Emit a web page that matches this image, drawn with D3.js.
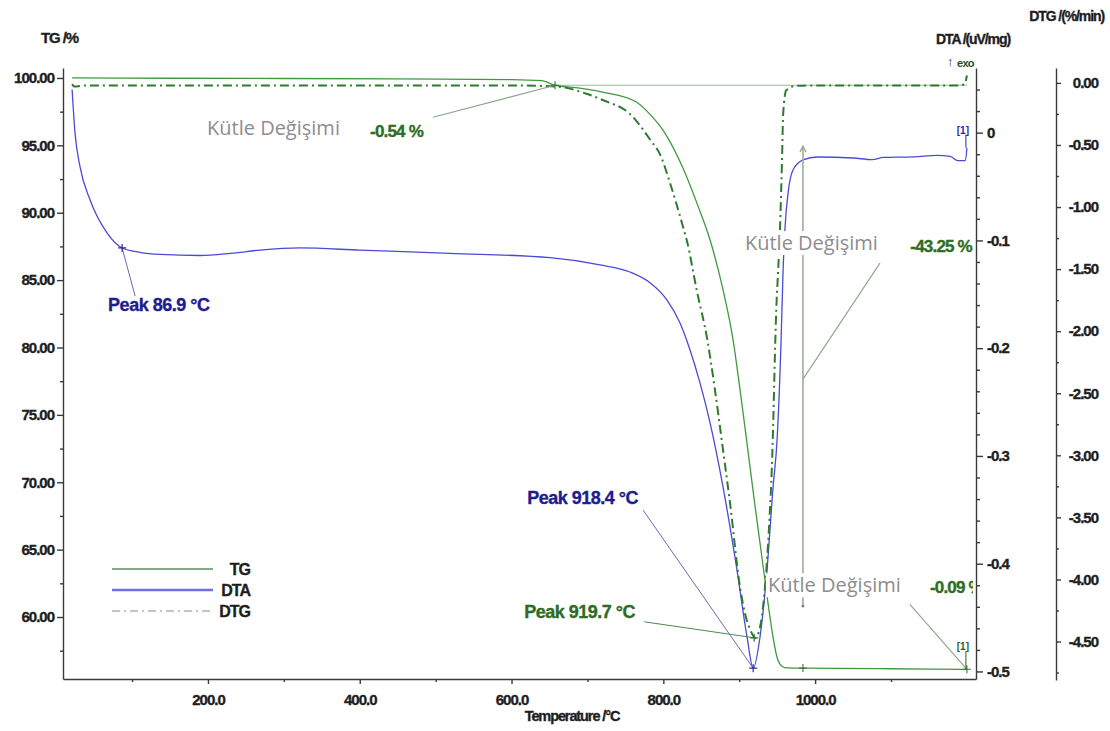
<!DOCTYPE html>
<html>
<head>
<meta charset="utf-8">
<script src="https://cdn.jsdelivr.net/npm/d3@7"></script>
<style>
  html, body { margin: 0; padding: 0; background: #fff; }
  svg { display: block; }
  .bold { font-family: "Liberation Sans", Arial, sans-serif; font-weight: bold; }
  .note { font-family: "Open Sans", sans-serif; fill: #8d8d8d; font-size: 20px; }
  .axis path, .axis line { stroke: #3a3a3a; stroke-width: 1.4; }
</style>
</head>
<body>
<svg id="chart" width="1110" height="731"></svg>
<script>
// ---- Thermal analysis readings (temperature in °C) ----
const tgTemp = [21, 150, 300, 450, 600, 640, 657.3, 690, 720, 765, 782.5, 800, 826, 845, 861.6, 878.7,
  891.9, 901.1, 910, 920, 930, 938, 944, 949, 953.7, 960, 984, 1100, 1200];
const tgMass = [100.0, 99.98, 99.96, 99.93, 99.88, 99.8, 99.46, 99.25, 98.95, 98.2, 97.3, 96.1, 93.3, 90.6, 87.98, 84.27,
  80.56, 76.85, 73.0, 68.6, 64.4, 61.0, 58.7, 57.2, 56.5, 56.25, 56.21, 56.16, 56.12];

const dtaTemp = [21, 24.8, 31.4, 44.6, 67, 86.9, 110, 136.8, 189.5, 230, 268.6, 321.3, 400.4, 519, 650.7, 716.6,
  756.1, 782.5, 804.9, 822, 835.2, 848.4, 861.6, 878.7, 897.1, 910.3, 918.4, 927.4, 936.6, 944.6, 949.9,
  955.2, 957.8, 960.4, 964.4, 971, 984.1, 1002.6, 1050, 1075, 1090, 1130, 1161, 1178, 1188, 1198, 1200];
const dtaSignal = [0.04, 0.0, -0.0316, -0.0623, -0.093, -0.107, -0.111, -0.113, -0.114, -0.112, -0.109, -0.107, -0.109, -0.112, -0.116, -0.1227,
  -0.1293, -0.1393, -0.1554, -0.1766, -0.2017, -0.2324, -0.2694, -0.329, -0.406, -0.468, -0.497, -0.468, -0.406, -0.329, -0.285,
  -0.192, -0.128, -0.0876, -0.056, -0.0345, -0.0253, -0.0226, -0.0235, -0.025, -0.023, -0.0225, -0.021, -0.022, -0.026, -0.026, -0.014];

const dtgTemp = [21, 24, 40, 200, 400, 600, 660, 700, 721, 756, 783, 796, 809, 826, 831, 844, 858, 868, 877, 888,
  901, 910, 914.3, 920.9, 926, 931.4, 936, 940, 943, 945, 947, 949, 951.4, 953.8, 956.4, 958, 962, 975,
  1000, 1100, 1190, 1197, 1200];
const dtgRate = [-0.01, -0.03, -0.02, -0.02, -0.02, -0.02, -0.03, -0.09, -0.14, -0.25, -0.46, -0.58, -0.81, -1.16, -1.27, -1.67, -2.07, -2.47, -2.88, -3.39,
  -4.06, -4.33, -4.40, -4.47, -4.42, -4.22, -3.9, -3.5, -3.1, -2.7, -2.2, -1.8, -1.5, -1.16, -0.62, -0.24, -0.06, -0.024,
  -0.02, -0.02, -0.02, -0.01, 0.06];

// ---- Axis ticks ----
const xTicks = [200, 400, 600, 800, 1000];
const xMinor = [100, 300, 500, 700, 900, 1100];
const tgTicks = [100, 95, 90, 85, 80, 75, 70, 65, 60];
const tgMinor = [97.5, 92.5, 87.5, 82.5, 77.5, 72.5, 67.5, 62.5, 57.5];
const dtaTicks = [0, -0.1, -0.2, -0.3, -0.4, -0.5];
const dtaMinor = [0.04, 0.02, -0.02, -0.04, -0.06, -0.08, -0.12, -0.14, -0.16, -0.18, -0.22, -0.24, -0.26, -0.28,
  -0.32, -0.34, -0.36, -0.38, -0.42, -0.44, -0.46, -0.48];
const dtgTicks = [0, -0.5, -1.0, -1.5, -2.0, -2.5, -3.0, -3.5, -4.0, -4.5];
const dtgMinor = [-0.25, -0.75, -1.25, -1.75, -2.25, -2.75, -3.25, -3.75, -4.25, -4.75];

// ---- Evaluations ----
const peakTemps = [86.9, 918.4, 919.7];
const peakValues = [-0.107, -0.497, -4.47];
const peakSignals = ["DTA", "DTA", "DTG"];

const stepNames = ["Kütle Değişimi", "Kütle Değişimi", "Kütle Değişimi"];
const stepChanges = [-0.54, -43.25, -0.09];
const stepTemps = [657.3, 984, 1200];
const stepMass = [99.46, 56.21, 56.12];

const legendNames = ["TG", "DTA", "DTG"];

// ---- Styling ----
const colors = { TG: "#3f9a3f", DTA: "#4a4ad6", DTG: "#2f7a2f" };
const legendColors = { TG: "#5a8f5a", DTA: "#6f6fe6", DTG: "#a8b8a8" };
const heavy = sel => sel.attr("stroke", "currentColor").attr("stroke-width", 0.35);

const svg = d3.select("#chart");

const x = d3.scaleLinear().domain([9, 1212]).range([63, 976]);
const yTG = d3.scaleLinear().domain([55.4, 100.74]).range([679, 68]);
const yDTA = d3.scaleLinear().domain([-0.507, 0.06]).range([679, 68]);
const yDTG = d3.scaleLinear().domain([-4.81, 0.12]).range([680, 68]);
const yOf = { TG: yTG, DTA: yDTA, DTG: yDTG };

// ---- Axes ----
function styleTicks(g) {
  g.selectAll("text").attr("class", "bold").style("font-size", "15px").style("color", "#1e1e1e")
    .attr("fill", "#1e1e1e").attr("letter-spacing", "-1").call(heavy);
}

const gx = svg.append("g").attr("class", "axis").attr("transform", "translate(0,679)")
  .call(d3.axisBottom(x).tickValues(xTicks).tickFormat(d => d.toFixed(1)).tickSize(5).tickSizeOuter(0));
styleTicks(gx);
gx.selectAll("text").attr("dy", "1.2em");
svg.append("g").attr("class", "axis").attr("transform", "translate(0,679)")
  .call(d3.axisBottom(x).tickValues(xMinor).tickFormat("").tickSize(3).tickSizeOuter(0))
  .select(".domain").remove();

const gl = svg.append("g").attr("class", "axis").attr("transform", "translate(63,0)")
  .call(d3.axisLeft(yTG).tickValues(tgTicks).tickFormat(d => d.toFixed(2)).tickSize(6).tickSizeOuter(0));
styleTicks(gl);
gl.selectAll("text").attr("x", -9);
svg.append("g").attr("class", "axis").attr("transform", "translate(63,0)")
  .call(d3.axisLeft(yTG).tickValues(tgMinor).tickFormat("").tickSize(3).tickSizeOuter(0))
  .select(".domain").remove();

const gr = svg.append("g").attr("class", "axis").attr("transform", "translate(976,0)")
  .call(d3.axisRight(yDTA).tickValues(dtaTicks).tickFormat(d => d === 0 ? "0" : d.toFixed(1)).tickSize(7).tickSizeOuter(0));
styleTicks(gr);
gr.selectAll("text").attr("x", 11);
svg.append("g").attr("class", "axis").attr("transform", "translate(976,0)")
  .call(d3.axisRight(yDTA).tickValues(dtaMinor).tickFormat("").tickSize(4).tickSizeOuter(0))
  .select(".domain").remove();

const gd = svg.append("g").attr("class", "axis").attr("transform", "translate(1056,0)")
  .call(d3.axisRight(yDTG).tickValues(dtgTicks).tickFormat(d => d.toFixed(2)).tickSize(5).tickSizeOuter(0));
styleTicks(gd);
gd.selectAll("text").attr("text-anchor", "end").attr("x", 42);
svg.append("g").attr("class", "axis").attr("transform", "translate(1056,0)")
  .call(d3.axisRight(yDTG).tickValues(dtgMinor).tickFormat("").tickSize(3).tickSizeOuter(0))
  .select(".domain").remove();

// Axis titles
const titles = [
  { t: "TG /%", x: 41, y: 43, a: "start", s: 15 },
  { t: "DTA /(uV/mg)", x: 973, y: 44, a: "middle", s: 14 },
  { t: "DTG /(%/min)", x: 1104, y: 21, a: "end", s: 14 },
  { t: "Temperature /°C", x: 572, y: 721, a: "middle", s: 14.5 }
];
svg.selectAll("text.title").data(titles).join("text")
  .attr("class", "bold title").attr("x", d => d.x).attr("y", d => d.y).attr("text-anchor", d => d.a)
  .style("font-size", d => d.s + "px").attr("letter-spacing", "-1.1").attr("fill", "#1e1e1e")
  .style("color", "#1e1e1e").call(heavy).text(d => d.t);
svg.append("text").attr("class", "bold").attr("x", 947).attr("y", 66).style("font-size", "13px").attr("fill", "#222").text("↑");
svg.append("text").attr("class", "bold").attr("x", 957).attr("y", 67).style("font-size", "11px").attr("fill", "#1f4f1f")
  .attr("letter-spacing", "-0.7").text("exo");

// ---- Curves ----
svg.append("clipPath").attr("id", "plotClip").append("rect")
  .attr("x", 63).attr("y", 60).attr("width", 910).attr("height", 625);
const plot = svg.append("g").attr("clip-path", "url(#plotClip)");

const series = [
  { key: "TG", temp: tgTemp, val: tgMass },
  { key: "DTA", temp: dtaTemp, val: dtaSignal },
  { key: "DTG", temp: dtgTemp, val: dtgRate }
];

// reference level after the first mass step
plot.append("line")
  .attr("x1", x(stepTemps[0])).attr("x2", x(stepTemps[2]))
  .attr("y1", yTG(stepMass[0])).attr("y2", yTG(stepMass[0]))
  .attr("stroke", "#9cb89c").attr("stroke-width", 1.2);

series.forEach(s => {
  const line = d3.line().x((d, i) => x(s.temp[i])).y((d, i) => yOf[s.key](s.val[i])).curve(d3.curveMonotoneX);
  plot.append("path").datum(s.val).attr("d", line).attr("fill", "none")
    .attr("stroke", colors[s.key])
    .attr("stroke-width", s.key === "DTG" ? 2 : 1.3)
    .attr("stroke-dasharray", s.key === "DTG" ? "9,4,2,4" : null);
});

// ---- Legend ----
const legendRows = [569, 590, 611];
legendNames.forEach((n, i) => {
  svg.append("line").attr("x1", 112).attr("x2", 213).attr("y1", legendRows[i]).attr("y2", legendRows[i])
    .attr("stroke", legendColors[n]).attr("stroke-width", n === "DTA" ? 2.5 : 1.5)
    .attr("stroke-dasharray", n === "DTG" ? "8,4,2,4" : null);
  svg.append("text").attr("class", "bold").attr("x", 250).attr("y", legendRows[i] + 6).attr("text-anchor", "end")
    .style("font-size", "16px").attr("letter-spacing", "-1").attr("fill", "#1e1e1e")
    .style("color", "#1e1e1e").call(heavy).text(n);
});

// ---- Annotations ----
const cross = "M-4,0H4M0,-4V4";
const noteLayer = svg.append("g");

// peak labels: offsets of text and leader start from the peak point
const peakLayout = [
  { tx: -14, ty: 63, lx: 13, ly: 48, color: "#1d1d8e", lead: "#6a6ab0" },
  { tx: -226, ty: -164, lx: -110, ly: -158, color: "#1d1d8e", lead: "#6a6ab0" },
  { tx: -230, ty: -20, lx: -110, ly: -16, color: "#2d6d22", lead: "#4c8a4c" }
];
peakTemps.forEach((t, i) => {
  const px = x(t), py = yOf[peakSignals[i]](peakValues[i]);
  const L = peakLayout[i];
  noteLayer.append("line").attr("x1", px + L.lx).attr("y1", py + L.ly).attr("x2", px).attr("y2", py)
    .attr("stroke", L.lead).attr("stroke-width", 1);
  noteLayer.append("path").attr("d", cross).attr("transform", `translate(${px},${py})`)
    .attr("stroke", peakSignals[i] === "DTA" ? "#2a2a9a" : "#2f6f2f").attr("stroke-width", 1.2);
  noteLayer.append("text").attr("class", "bold").attr("x", px + L.tx).attr("y", py + L.ty)
    .style("font-size", "18px").attr("letter-spacing", "-0.5").attr("fill", L.color)
    .style("color", L.color).call(heavy)
    .text(`Peak ${t.toFixed(1)} °C`);
});

// mass change labels: offsets from the step marker on the TG curve
const stepLayout = [
  { nx: -348, ny: 50, vx: -185, vy: 52, va: "start", l1: [-122, 32], l2: [0, 0] },
  { nx: -58, ny: -418, vx: 169, vy: -416, va: "end", l1: [77, -405], l2: [0, -289], bar: [-522, -62] },
  { nx: -199, ny: -77, vx: -37, vy: -76, va: "start", l1: [-57, -65], l2: [0, 0] }
];
const stepLines = noteLayer.append("g");
const stepText = noteLayer.append("g");
stepTemps.forEach((t, i) => {
  const px = x(t), py = yTG(stepMass[i]);
  const L = stepLayout[i];
  stepLines.append("line").attr("x1", px + L.l1[0]).attr("y1", py + L.l1[1]).attr("x2", px + L.l2[0]).attr("y2", py + L.l2[1])
    .attr("stroke", "#8aa58a").attr("stroke-width", 1.1);
  stepLines.append("path").attr("d", cross).attr("transform", `translate(${px},${py})`)
    .attr("stroke", "#3f6f3f").attr("stroke-width", 1.1);
  if (L.bar) {
    stepLines.append("line").attr("x1", px).attr("x2", px).attr("y1", py + L.bar[0]).attr("y2", py + L.bar[1])
      .attr("stroke", "#9aae9a").attr("stroke-width", 1.6);
    stepLines.append("path").attr("d", "M-3,6L0,0L3,6").attr("transform", `translate(${px},${py + L.bar[0]})`)
      .attr("fill", "none").attr("stroke", "#9aae9a").attr("stroke-width", 1.4);
    stepLines.append("circle").attr("cx", px).attr("cy", py + L.bar[1]).attr("r", 1.5).attr("fill", "#7a8a7a");
  }
  const g = stepText.append("g");
  const name = g.append("text").attr("class", "note").attr("x", px + L.nx).attr("y", py + L.ny).text(stepNames[i]);
  const bb = name.node().getBBox();
  g.insert("rect", "text").attr("x", bb.x - 2).attr("y", bb.y + 2).attr("width", bb.width + 4).attr("height", bb.height - 3)
    .attr("fill", "#fff");
  stepText.append("text").attr("class", "bold").attr("x", px + L.vx).attr("y", py + L.vy).attr("text-anchor", L.va)
    .attr("clip-path", "url(#plotClip)")
    .style("font-size", "17px").attr("letter-spacing", "-0.8").attr("fill", "#2d6d22")
    .style("color", "#2d6d22").call(heavy)
    .text(`${stepChanges[i].toFixed(2)} %`);
});

// segment tags at the end of the run
const tags = [
  { key: "DTA", val: dtaSignal[dtaSignal.length - 1], color: "#2a2a9a", dy: -18 },
  { key: "TG", val: tgMass[tgMass.length - 1], color: "#2f5f2f", dy: -23 }
];
tags.forEach(tg => {
  const px = x(tgTemp[tgTemp.length - 1]), py = yOf[tg.key](tg.val);
  noteLayer.append("line").attr("x1", px - 1).attr("x2", px - 1).attr("y1", py + tg.dy + 5).attr("y2", py)
    .attr("stroke", tg.color).attr("stroke-width", 1);
  noteLayer.append("text").attr("class", "bold").attr("x", px - 4).attr("y", py + tg.dy + 4).attr("text-anchor", "middle")
    .style("font-size", "10px").attr("fill", tg.color).text("[1]");
});
</script>
</body>
</html>
